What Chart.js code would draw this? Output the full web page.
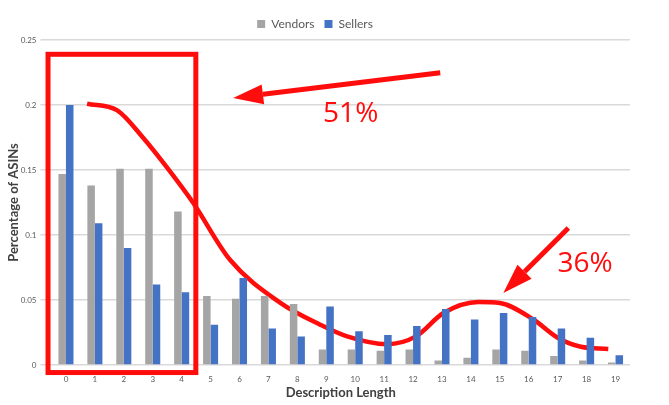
<!DOCTYPE html>
<html>
<head>
<meta charset="utf-8">
<script src="https://cdn.jsdelivr.net/npm/chart.js@4.4.1/dist/chart.umd.min.js"></script>
<style>
  html, body { margin: 0; padding: 0; background: #fff; }
  #wrap { width: 669px; height: 405px; position: relative; }
</style>
</head>
<body>
<div id="wrap"><canvas id="chart"></canvas></div>
<script>
// Data
const lengths = ['0', '1', '2', '3', '4', '5', '6', '7', '8', '9', '10', '11', '12', '13', '14', '15', '16', '17', '18', '19'];
const vendors = [0.147, 0.138, 0.151, 0.151, 0.118, 0.053, 0.051, 0.053, 0.047, 0.012, 0.012, 0.011, 0.012, 0.0035, 0.0055, 0.012, 0.011, 0.007, 0.0035, 0.002];
const sellers = [0.200, 0.109, 0.090, 0.062, 0.056, 0.031, 0.067, 0.028, 0.022, 0.045, 0.026, 0.023, 0.030, 0.043, 0.035, 0.040, 0.037, 0.028, 0.021, 0.0075];
const yTicks = ['0', '0.05', '0.1', '0.15', '0.2', '0.25'];

// Hand-drawn red trend curve (x in category units)
const curveX = [0.73, 1.76, 2.66, 3.49, 4.39, 5.67, 7.4, 8.79, 9.72, 11.1, 12.1, 13.05, 14.26, 15.0, 16.16, 17.0, 17.8, 18.75];
const curveY = [0.201, 0.196, 0.175, 0.152, 0.125, 0.081, 0.048, 0.031, 0.022, 0.016, 0.022, 0.040, 0.0485, 0.0477, 0.035, 0.021, 0.014, 0.0123];

const RED = '#ff0d0d';
const FONT = 'Lato, "Liberation Sans", sans-serif';

// Red annotations (rectangle, arrows, percentages), placed in scale units
const annotations = {
  id: 'annotations',
  afterDraw(chart) {
    const { ctx } = chart;
    const sx = chart.scales.x, sy = chart.scales.y;
    const px = v => sx.getPixelForValue(v);
    const py = v => sy.getPixelForValue(v);
    ctx.save();
    ctx.strokeStyle = RED;
    ctx.fillStyle = RED;
    ctx.lineWidth = 5;
    ctx.lineJoin = 'miter';
    // box round the first five lengths
    ctx.strokeRect(px(-0.62), py(0.239), px(4.49) - px(-0.62), py(-0.0058) - py(0.239));

    const arrow = (x1, y1, x2, y2) => {
      const ax = px(x1), ay = py(y1), bx = px(x2), by = py(y2);
      const ang = Math.atan2(by - ay, bx - ax);
      const len = 30, half = 10;
      const cx = bx - len * Math.cos(ang), cy = by - len * Math.sin(ang);
      ctx.lineWidth = 5;
      ctx.beginPath();
      ctx.moveTo(ax, ay);
      ctx.lineTo(cx, cy);
      ctx.stroke();
      ctx.beginPath();
      ctx.moveTo(bx, by);
      ctx.lineTo(cx + half * Math.sin(ang), cy - half * Math.cos(ang));
      ctx.lineTo(cx - half * Math.sin(ang), cy + half * Math.cos(ang));
      ctx.closePath();
      ctx.fill();
    };
    arrow(12.94, 0.2248, 5.78, 0.2054);
    arrow(17.37, 0.1054, 15.12, 0.0554);

    ctx.font = '28px "Open Sans", sans-serif';
    ctx.textBaseline = 'alphabetic';
    ctx.textAlign = 'left';
    ctx.fillText('51%', px(8.89), py(0.187));
    ctx.fillText('36%', px(16.99), py(0.0715));
    ctx.restore();
  }
};

// one linear x axis for bars and curve (a second x axis splits the bar groups)
const toPoints = ys => ys.map((y, i) => ({ x: i, y }));

new Chart(document.getElementById('chart'), {
  type: 'bar',
  data: {
    datasets: [
      {
        label: 'Vendors',
        data: toPoints(vendors),
        backgroundColor: '#a5a5a5',
        categoryPercentage: 0.52,
        barPercentage: 1.0,
      },
      {
        label: 'Sellers',
        data: toPoints(sellers),
        backgroundColor: '#4472c4',
        categoryPercentage: 0.52,
        barPercentage: 1.0,
      },
      {
        type: 'line',
        label: 'trend',
        data: curveX.map((x, i) => ({ x, y: curveY[i] })),
        borderColor: RED,
        borderWidth: 4.5,
        pointRadius: 0,
        cubicInterpolationMode: 'monotone',
        fill: false,
      },
    ],
  },
  options: {
    responsive: true,
    maintainAspectRatio: false,
    animation: false,
    layout: { padding: { left: 0, right: 39, top: 8, bottom: 0 } },
    plugins: {
      legend: {
        position: 'top',
        labels: {
          boxWidth: 8,
          boxHeight: 8,
          padding: 10,
          color: '#595959',
          font: { family: FONT, size: 12 },
          filter: item => item.text !== 'trend',
        },
      },
      tooltip: { enabled: false },
    },
    scales: {
      x: {
        type: 'linear',
        min: -0.5,
        max: 19.5,
        offset: false,
        grid: { display: false, offset: false },
        border: { display: false },
        afterBuildTicks: s => { s.ticks = lengths.map((_, i) => ({ value: i })); },
        ticks: {
          color: '#595959',
          font: { family: FONT, size: 8 },
          padding: 2,
          maxRotation: 0,
          autoSkip: false,
          callback: v => lengths[v],
        },
        title: {
          display: true,
          text: 'Description Length',
          color: '#404040',
          font: { family: FONT, size: 13, weight: 'bold' },
          padding: { top: 4, bottom: 4 },
        },
        afterFit: s => { s.height = 40; },
      },
      y: {
        min: 0,
        max: 0.25,
        grid: { color: '#d9d9d9', lineWidth: 1.5, tickLength: 11 },
        border: { display: false },
        ticks: {
          stepSize: 0.05,
          padding: 4,
          color: '#595959',
          font: { family: FONT, size: 8 },
          callback: (v, i) => yTicks[i],
        },
        title: {
          display: true,
          text: 'Percentage of ASINs',
          color: '#404040',
          font: { family: FONT, size: 13, weight: 'bold' },
          padding: { top: 6, bottom: 0 },
        },
        afterFit: s => { s.width = 51.5; },
      },
    },
  },
  plugins: [annotations],
});
</script>
</body>
</html>
